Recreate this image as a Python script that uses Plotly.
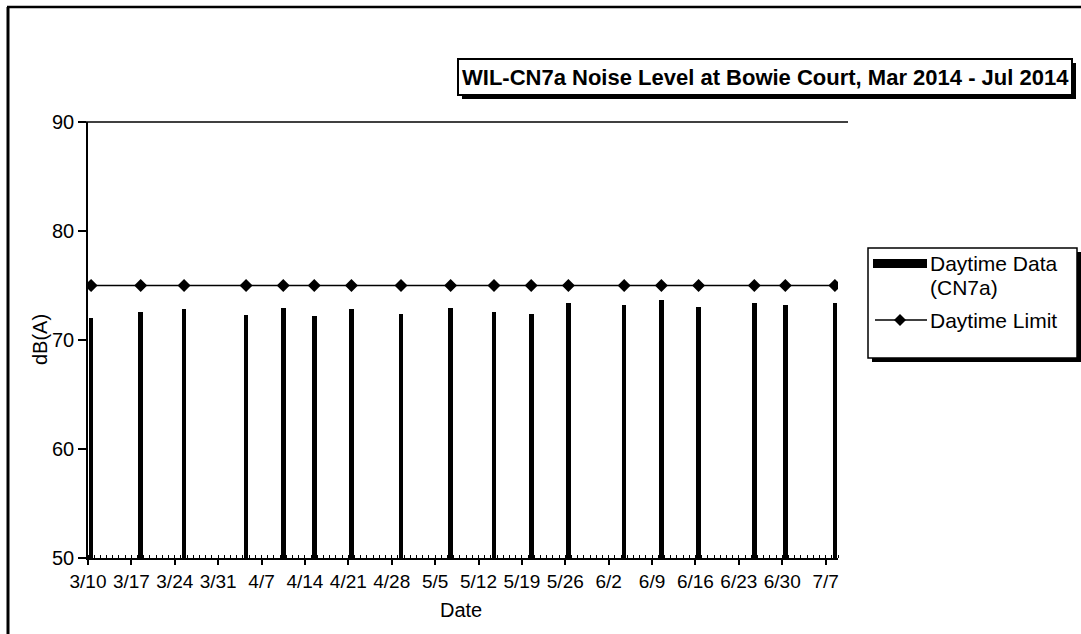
import plotly.graph_objects as go

dates = [
    "2014-03-10", "2014-03-18", "2014-03-25", "2014-04-04", "2014-04-10",
    "2014-04-15", "2014-04-21", "2014-04-29", "2014-05-07", "2014-05-14",
    "2014-05-20", "2014-05-26", "2014-06-04", "2014-06-10", "2014-06-16",
    "2014-06-25", "2014-06-30", "2014-07-08",
]
daytime_data = [
    72.0, 72.6, 72.8, 72.3, 72.9, 72.2, 72.8, 72.4, 72.9, 72.6,
    72.4, 73.4, 73.2, 73.7, 73.0, 73.4, 73.2, 73.4,
]
daytime_limit = [
    75, 75, 75, 75, 75, 75, 75, 75, 75, 75,
    75, 75, 75, 75, 75, 75, 75, 75,
]

y_ticks = [50, 60, 70, 80, 90]

FONT = "Arial, Liberation Sans, sans-serif"
DAY = 86400000

# figure size and plot area in pixels
W, H = 1081, 634
L, R, T, B = 88, 838, 122, 558


def px(x):
    return (x - L) / (R - L)


def py(y):
    return (B - y) / (B - T)


def rect(x0, y0, x1, y1, fill, line_width=0, line_color="black"):
    return dict(type="rect", xref="paper", yref="paper",
                x0=px(x0), x1=px(x1), y0=py(y1), y1=py(y0),
                fillcolor=fill, line=dict(width=line_width, color=line_color),
                layer="above")


def line(x0, y0, x1, y1, width=1.5):
    return dict(type="line", xref="paper", yref="paper",
                x0=px(x0), x1=px(x1), y0=py(y0), y1=py(y1),
                line=dict(width=width, color="black"), layer="above")


def text(x, y, s, size=15, anchor="left", angle=0, bold=False):
    if bold:
        s = "<b>" + s + "</b>"
    return dict(xref="paper", yref="paper", x=px(x), y=py(y), text=s,
                showarrow=False, xanchor=anchor, yanchor="middle",
                textangle=angle, font=dict(family=FONT, size=size, color="black"))


fig = go.Figure()

fig.add_trace(go.Bar(
    x=dates, y=daytime_data, name="Daytime Data (CN7a)",
    xperiod=DAY, xperiodalignment="middle",
    width=0.75 * DAY, marker=dict(color="black", line=dict(width=0)),
))
fig.add_trace(go.Scatter(
    x=dates, y=daytime_limit, name="Daytime Limit",
    xperiod=DAY, xperiodalignment="middle",
    mode="lines+markers",
    line=dict(color="black", width=1.5),
    marker=dict(symbol="diamond", size=10, color="black"),
))

shapes = [
    # outer frame of the picture (left and top edges only are visible)
    line(8, 7, 8, 640, 3),
    line(7, 7, 1085, 7, 2.5),
    # top line of the plot area
    line(78, T, 848, T),
    # title box with drop shadow
    rect(462, 63, 1076, 99, "black"),
    rect(458, 59, 1072, 95, "white", 2),
    # legend box with drop shadow
    rect(872, 252, 1081, 362, "black"),
    rect(868, 248, 1077, 358, "white", 1.5),
    # legend symbols
    rect(873, 259, 927, 268, "black"),
    line(875, 320, 927, 320, 1.5),
    dict(type="path", xref="paper", yref="paper", layer="above",
         path="M {} {} L {} {} L {} {} L {} {} Z".format(
             px(900), py(314), px(906), py(320), px(900), py(326), px(894), py(320)),
         fillcolor="black", line=dict(width=0)),
]

annotations = [
    text(765, 77, "WIL-CN7a Noise Level at Bowie Court, Mar 2014 - Jul 2014",
         size=22, anchor="center", bold=True),
    text(928, 263, "Daytime Data", size=21),
    text(928, 287, "(CN7a)", size=21),
    text(928, 320, "Daytime Limit", size=21),
    text(461, 610, "Date", size=20, anchor="center"),
    text(40, 340, "dB(A)", size=20, anchor="center", angle=-90),
]

fig.update_layout(
    width=W, height=H,
    margin=dict(l=L, r=W - R, t=T, b=H - B),
    paper_bgcolor="white", plot_bgcolor="white",
    showlegend=False,
    bargap=0,
    font=dict(family=FONT, size=19, color="black"),
    shapes=shapes,
    annotations=annotations,
)

fig.update_xaxes(
    type="date",
    range=["2014-03-10", "2014-07-09"],
    tick0="2014-03-10", dtick=7 * DAY, tickformat="%-m/%-d",
    ticks="outside", ticklen=5, tickwidth=1.5, tickcolor="black",
    minor=dict(dtick=DAY, tick0="2014-03-10", ticks="inside", ticklen=3,
               tickwidth=1, tickcolor="black", showgrid=False),
    showline=True, linecolor="black", linewidth=1.5,
    showgrid=False, zeroline=False,
    tickfont=dict(family=FONT, size=19, color="black"),
)
fig.update_yaxes(
    range=[50, 90], tickvals=y_ticks,
    ticks="outside", ticklen=8, tickwidth=1.5, tickcolor="black",
    showline=True, linecolor="black", linewidth=1.5,
    showgrid=False, zeroline=False,
    tickfont=dict(family=FONT, size=20, color="black"),
)

# the page's default body margin would shift the chart by 8 px
fig.write_html("out.html", config={"displayModeBar": False},
               post_script="document.body.style.margin = '0';")
